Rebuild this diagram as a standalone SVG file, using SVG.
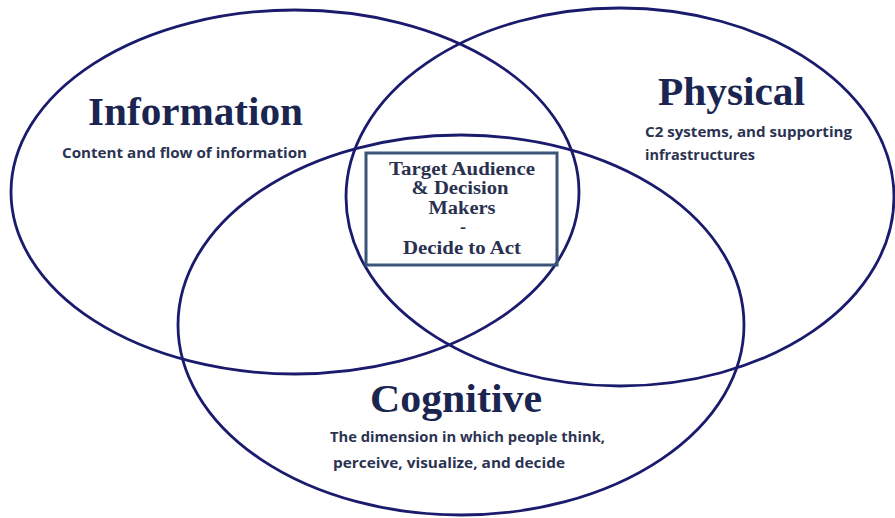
<svg xmlns="http://www.w3.org/2000/svg" width="895" height="518" viewBox="0 0 895 518">
<style>
.ring{fill:none;stroke:#1b1b6e;stroke-width:2.8}
.title{font-family:"Liberation Serif",serif;font-weight:bold;font-size:41px;fill:#1a2550}
.sub{font-family:"Open Sans","Noto Sans",sans-serif;font-weight:700;font-size:14.5px;fill:#2c3352}
.box{fill:none;stroke:#3a5578;stroke-width:3}
.boxt{font-family:"Liberation Serif",serif;font-weight:bold;font-size:18px;fill:#2a3150;text-anchor:middle}
</style>
<rect width="895" height="518" fill="#ffffff"/>
<g id="information">
<ellipse class="ring" cx="295" cy="192" rx="284" ry="182"/>
<text class="title" x="88" y="125" textLength="215" lengthAdjust="spacingAndGlyphs">Information</text>
<text class="sub" x="62" y="158" textLength="245" lengthAdjust="spacingAndGlyphs">Content and flow of information</text>
</g>
<g id="physical">
<ellipse class="ring" cx="620" cy="197" rx="274" ry="189"/>
<text class="title" x="658" y="105" textLength="147" lengthAdjust="spacingAndGlyphs">Physical</text>
<text class="sub" x="645" y="137" textLength="207" lengthAdjust="spacingAndGlyphs">C2 systems, and supporting</text>
<text class="sub" x="645" y="160" textLength="110" lengthAdjust="spacingAndGlyphs">infrastructures</text>
</g>
<g id="cognitive">
<ellipse class="ring" cx="461" cy="325" rx="283" ry="190"/>
<text class="title" x="370" y="412" textLength="172" lengthAdjust="spacingAndGlyphs">Cognitive</text>
<text class="sub" x="330" y="442" textLength="275" lengthAdjust="spacingAndGlyphs">The dimension in which people think,</text>
<text class="sub" x="333" y="468" textLength="232" lengthAdjust="spacingAndGlyphs">perceive, visualize, and decide</text>
</g>
<g id="target">
<rect class="box" x="366" y="153" width="191" height="112"/>
<text class="boxt" x="462" y="175" textLength="146" lengthAdjust="spacingAndGlyphs">Target Audience</text>
<text class="boxt" x="460" y="194" textLength="97" lengthAdjust="spacingAndGlyphs">&amp; Decision</text>
<text class="boxt" x="462" y="214" textLength="67" lengthAdjust="spacingAndGlyphs">Makers</text>
<text class="boxt" x="463" y="233">-</text>
<text class="boxt" x="462" y="254" textLength="118" lengthAdjust="spacingAndGlyphs">Decide to Act</text>
</g>
<g id="connectors"></g>
</svg>
